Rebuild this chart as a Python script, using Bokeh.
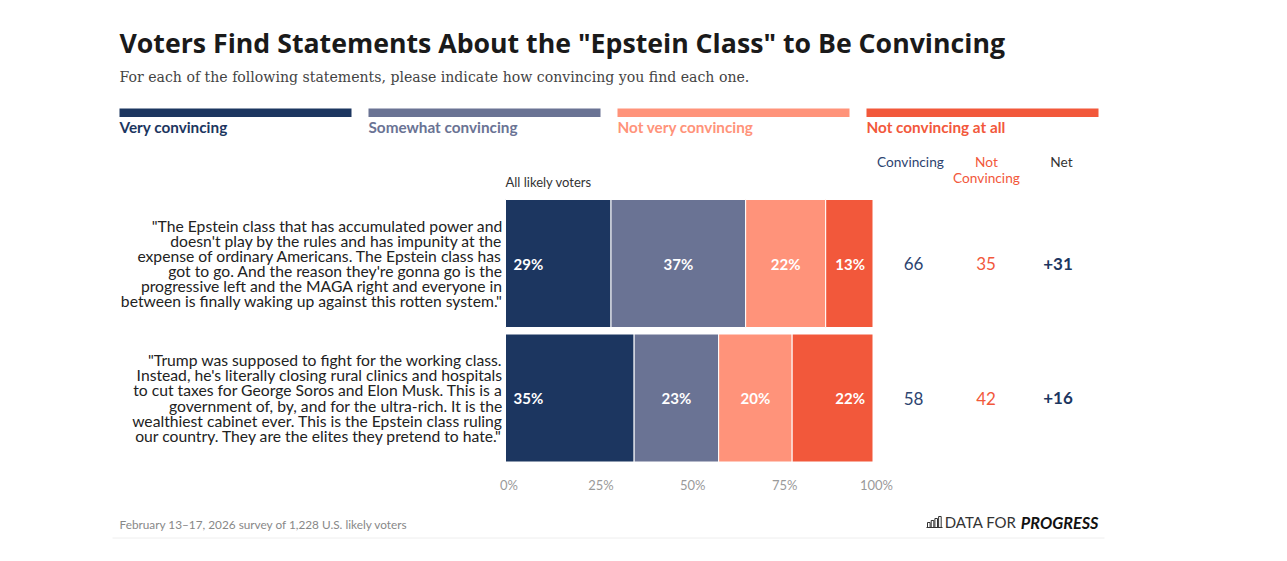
from bokeh.plotting import figure
from bokeh.models import Range1d, ColumnDataSource
from bokeh.embed import file_html
from bokeh.resources import INLINE
from bokeh.core.properties import value

# ---------------- data ----------------
title = 'Voters Find Statements About the "Epstein Class" to Be Convincing'
subtitle = "For each of the following statements, please indicate how convincing you find each one."
categories = ["Very convincing", "Somewhat convincing", "Not very convincing", "Not convincing at all"]
colors = ["#1c3660", "#6a7394", "#ff937a", "#f2583b"]
statements = [
    '"The Epstein class that has accumulated power and\ndoesn\'t play by the rules and has impunity at the\nexpense of ordinary Americans. The Epstein class has\ngot to go. And the reason they\'re gonna go is the\nprogressive left and the MAGA right and everyone in\nbetween is finally waking up against this rotten system."',
    '"Trump was supposed to fight for the working class.\nInstead, he\'s literally closing rural clinics and hospitals\nto cut taxes for George Soros and Elon Musk. This is a\ngovernment of, by, and for the ultra-rich. It is the\nwealthiest cabinet ever. This is the Epstein class ruling\nour country. They are the elites they pretend to hate."',
]
very = [29, 35]
somewhat = [37, 23]
not_very = [22, 20]
not_at_all = [13, 22]
convincing = [66, 58]
not_convincing = [35, 42]
net = ["+31", "+16"]
tick_values = [0, 25, 50, 75, 100]
tick_labels = ["0%", "25%", "50%", "75%", "100%"]
group_label = "All likely voters"
footer = "February 13\u201317, 2026 survey of 1,228 U.S. likely voters"

# ---------------- layout ----------------
W, H = 1271, 545
X0, X100 = 505.0, 872.5          # page px of 0% and 100%
S = (X100 - X0) / 100.0


def dx(page_x):
    return (page_x - X0) / S


def dy(page_y):
    return page_y


def px(n):
    return n / S


SANS = "Lato"
TITLE_FONT = "Open Sans"
SERIF = "DejaVu Serif"
MID = "middle"

p = figure(width=W, height=H, output_backend="svg", toolbar_location=None,
           x_range=Range1d(dx(0), dx(W)), y_range=Range1d(dy(H), dy(0)),
           x_axis_location=None, y_axis_location=None, min_border=0)
p.outline_line_color = None
p.xgrid.visible = False
p.ygrid.visible = False
p.background_fill_color = "white"
p.border_fill_color = "white"

# title / subtitle
p.text(x=[dx(119)], y=[dy(41.5)], text=[title], text_font=value(TITLE_FONT), text_font_style="bold",
       text_font_size="26.7px", text_color="#1a1a1a", text_baseline=MID, text_align="left")
p.text(x=[dx(119)], y=[dy(76)], text=[subtitle], text_font=value(SERIF),
       text_font_size="14.1px", text_color="#444444", text_baseline=MID, text_align="left")

# legend
LEG_X, LEG_W, LEG_GAP = 119.0, 232.0, 17.0
leg_left = [dx(LEG_X + i * (LEG_W + LEG_GAP)) for i in range(len(categories))]
leg_right = [l + px(LEG_W) for l in leg_left]
p.quad(left=leg_left, right=leg_right, top=[dy(108)] * 4, bottom=[dy(116.5)] * 4,
       fill_color=colors, line_color=None)
p.text(x=leg_left, y=[dy(126.7)] * 4, text=categories, text_color=colors, text_font=value(SANS),
       text_font_style="bold", text_font_size="15.3px", text_baseline=MID, text_align="left")

# column headers
p.text(x=[dx(910), dx(986), dx(1061)], y=[dy(160.5)] * 3, text=["Convincing", "Not", "Net"],
       text_color=["#2d4470", "#f2583b", "#333333"], text_font=value(SANS), text_font_size="13.7px",
       text_baseline=MID, text_align="center")
p.text(x=[dx(986)], y=[dy(177)], text=["Convincing"], text_color="#f2583b", text_font=value(SANS),
       text_font_size="13.7px", text_baseline=MID, text_align="center")
p.text(x=[dx(505)], y=[dy(181.5)], text=[group_label], text_color="#333333", text_font=value(SANS),
       text_font_size="13px", text_baseline=MID, text_align="left")

# bars
BAR_TOP, BAR_H, BAR_PITCH = 199.0, 128.0, 134.5
n = len(statements)
centers = [dy(BAR_TOP + BAR_H / 2 + i * BAR_PITCH) for i in range(n)]
series = [very, somewhat, not_very, not_at_all]
totals = [sum(s[i] for s in series) for i in range(n)]
cum = [0.0] * n
lab_x, lab_y, lab_t, lab_a = [], [], [], []
for k, s in enumerate(series):
    left = list(cum)
    right = [cum[i] + s[i] * 100.0 / totals[i] for i in range(n)]
    p.hbar(y=centers, left=left, right=right, height=BAR_H, fill_color=colors[k],
           line_color="white", line_width=1)
    for i in range(n):
        if k == 0:
            lab_x.append(left[i] + px(8)); lab_a.append("left")
        elif k == len(series) - 1:
            lab_x.append(right[i] - px(8)); lab_a.append("right")
        else:
            lab_x.append((left[i] + right[i]) / 2); lab_a.append("center")
        lab_y.append(centers[i])
        lab_t.append(f"{s[i]}%")
    cum = right
src = ColumnDataSource(dict(x=lab_x, y=lab_y, t=lab_t, a=lab_a))
p.text(x="x", y="y", text="t", text_align="a", source=src, text_color="white",
       text_font=value(SANS), text_font_style="bold", text_font_size="15px", text_baseline=MID)

# statements
STMT_SIZE = 15.7
p.text(x=[dx(502)] * n, y=centers, text=statements, text_align="right", text_baseline=MID,
       text_color="#222222", text_font=value(SANS), text_font_size=f"{STMT_SIZE}px",
       text_line_height=15 / (STMT_SIZE * 1.14))

# right-hand numbers
p.text(x=[dx(913)] * n, y=centers, text=[str(v) for v in convincing], text_color="#2d4470",
       text_font=value(SANS), text_font_size="17px", text_baseline=MID, text_align="center")
p.text(x=[dx(985.5)] * n, y=centers, text=[str(v) for v in not_convincing], text_color="#f2583b",
       text_font=value(SANS), text_font_size="17px", text_baseline=MID, text_align="center")
p.text(x=[dx(1057.5)] * n, y=centers, text=net, text_color="#1c3660", text_font_style="bold",
       text_font=value(SANS), text_font_size="17px", text_baseline=MID, text_align="center")

# x tick labels
p.text(x=tick_values, y=[dy(484.8)] * len(tick_values), text=tick_labels, text_color="#9a9a9a",
       text_font=value(SANS), text_font_size="13px", text_baseline=MID, text_align="center",
       x_offset=3.5)

# footer
p.text(x=[dx(119)], y=[dy(523.5)], text=[footer], text_color="#888888", text_font=value(SANS),
       text_font_size="11.8px", text_baseline=MID, text_align="left")
p.segment(x0=[dx(112)], x1=[dx(1104)], y0=[dy(537.5)], y1=[dy(537.5)], line_color="#eeeeee", line_width=1)

# logo
p.text(x=[dx(1098)], y=[dy(521.7)], text=["PROGRESS"], text_color="#111111", text_font=value(SANS),
       text_font_style="bold italic", text_font_size="16.3px", text_baseline=MID, text_align="right")
p.text(x=[dx(1016)], y=[dy(521.7)], text=["DATA FOR"], text_color="#333333", text_font=value(SANS),
       text_font_size="15px", text_baseline=MID, text_align="right")
LOGO_X, LOGO_BASE = 927.0, 527.0
icon_h = [5, 7, 9, 11]
p.quad(left=[dx(LOGO_X + i * 3.7) for i in range(4)], right=[dx(LOGO_X + i * 3.7 + 2.6) for i in range(4)],
       top=[dy(LOGO_BASE - h) for h in icon_h], bottom=[dy(LOGO_BASE)] * 4,
       fill_color=None, line_color="#333333", line_width=1)
p.segment(x0=[dx(LOGO_X - 1)], x1=[dx(LOGO_X + 15)], y0=[dy(LOGO_BASE)], y1=[dy(LOGO_BASE)],
          line_color="#333333", line_width=1)

open("out.html", "w").write(file_html(p, INLINE))
